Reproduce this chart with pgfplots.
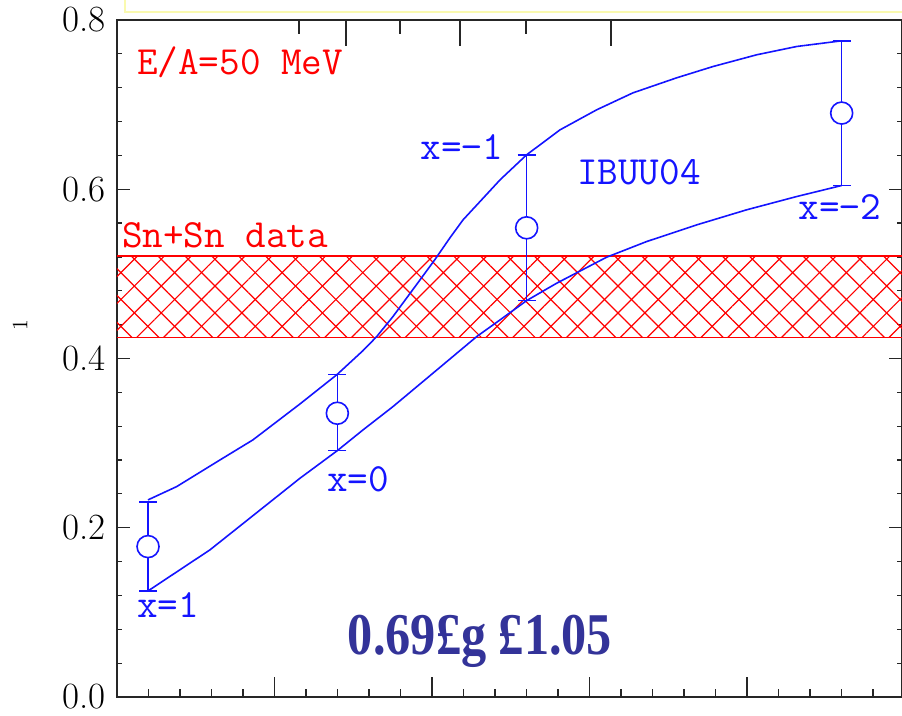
\documentclass[border=0pt]{standalone}
\usepackage{fontspec}
\usepackage{pgfplots}
\pgfplotsset{compat=1.18}
\usetikzlibrary{patterns.meta}
\newfontfamily\bigserif[FakeStretch=0.85]{Liberation Serif}
\definecolor{navy}{RGB}{51,51,153}
\definecolor{lblue}{RGB}{20,20,255}
\definecolor{boxyellow}{RGB}{250,250,175}
\newcommand{\lab}{\ttfamily\fontsize{20}{22}\selectfont}
\pgfplotsset{base/.style={scale only axis, width=392.5pt, height=338.5pt,
  xmin=0, xmax=4.984, ymin=0, ymax=0.8, clip=false,
  tick style={line width=0.6pt, black!85}}}
\begin{document}
\begin{tikzpicture}
\begin{axis}[base,
  xtick=\empty,
  ytick={0,0.2,0.4,0.6,0.8},
  yticklabels={0.0,0.2,0.4,0.6,0.8},
  minor ytick={0.04,0.08,0.12,0.16,0.24,0.28,0.32,0.36,0.44,0.48,0.52,0.56,0.64,0.68,0.72,0.76},
  ytick pos=both, tick align=inside,
  major tick length=6.5pt, minor tick length=2.5pt,
  yticklabel style={font=\fontsize{18.5}{20}\selectfont, xshift=-2.3pt},
  axis line style={line width=0.9pt, black!85}]
\coordinate (bl) at (rel axis cs:0,0);
\coordinate (tr) at (rel axis cs:1,1);
% Sn+Sn data band
\addplot[draw=none, pattern={Lines[angle=45,distance=9.5pt,line width=0.6pt]}, pattern color=red]
  coordinates {(0,0.4247)(4.984,0.4247)(4.984,0.5213)(0,0.5213)} -- cycle;
\addplot[draw=none, pattern={Lines[angle=-45,distance=9.5pt,line width=0.6pt]}, pattern color=red]
  coordinates {(0,0.4247)(4.984,0.4247)(4.984,0.5213)(0,0.5213)} -- cycle;
\addplot[red, line width=0.75pt] coordinates {(0,0.5213)(4.984,0.5213)};
\addplot[red, line width=0.75pt] coordinates {(0,0.4247)(4.984,0.4247)};
% IBUU04 curves
\addplot[lblue, line width=0.8pt] coordinates {(0.197,0.2329)(0.379,0.2486)(0.654,0.2801)(0.863,0.3038)(1.162,0.3463)(1.397,0.381)(1.562,0.4093)(1.649,0.4259)(1.752,0.4495)(1.924,0.4929)(2.019,0.517)(2.114,0.5426)(2.197,0.5638)(2.305,0.5855)(2.432,0.6111)(2.601,0.6407)(2.813,0.6702)(3.046,0.6939)(3.276,0.7139)(3.554,0.7317)(3.784,0.745)(4.062,0.7589)(4.316,0.7687)(4.601,0.7754)};
\addplot[lblue, line width=0.8pt] coordinates {(0.197,0.1253)(0.59,0.1738)(1.162,0.2585)(1.399,0.2911)(1.562,0.3156)(1.752,0.3431)(2.006,0.3826)(2.284,0.4259)(2.432,0.4456)(2.601,0.4684)(2.792,0.489)(3.109,0.5197)(3.363,0.5382)(3.681,0.5579)(3.998,0.5757)(4.316,0.5914)(4.601,0.6044)};
% points with error bars
\addplot[color=lblue, line width=0.8pt, only marks, mark=*, mark size=5.5pt,
  mark options={fill=white, draw=lblue},
  error bars/.cd, y dir=both, y explicit,
  error bar style={line width=0.8pt, color=lblue},
  error mark options={rotate=90, mark size=4.5pt, line width=0.8pt, color=lblue}]
  table[x=x, y=y, y error plus=ep, y error minus=em] {
x y ep em
0.197 0.1777 0.0528 0.0524
1.399 0.3353 0.0457 0.0442
2.601 0.5544 0.0863 0.0860
4.601 0.690 0.0854 0.0856
};
% labels
\node[red, anchor=base west, inner sep=0] at (axis cs:0.125,0.7352) {\lab E/A=50 MeV};
\node[red, anchor=base west, inner sep=0] at (axis cs:0.030,0.5307) {\lab Sn+Sn data};
\node[lblue, anchor=base west, inner sep=0] at (axis cs:0.125,0.0934) {\lab x=1};
\node[lblue, anchor=base west, inner sep=0] at (axis cs:1.331,0.2427) {\lab x=0};
\node[lblue, anchor=base west, inner sep=0] at (axis cs:1.924,0.6348) {\lab x=−1};
\node[lblue, anchor=base west, inner sep=0] at (axis cs:2.919,0.6052) {\lab IBUU04};
\node[lblue, anchor=base west, inner sep=0] at (axis cs:4.324,0.5638) {\lab x=−2};
\node[navy, anchor=base, inner sep=0] at (axis cs:2.305,0.0496) {\bigserif\bfseries\fontsize{29.6}{32}\selectfont 0.69£g £1.05};
\node[rotate=90, inner sep=0] at (axis cs:-0.616,0.4397) {\fontsize{11}{12}\selectfont 1};
\draw[boxyellow, line width=1pt] (axis cs:0.051,0.9) |- (axis cs:5.3,0.8095);
\end{axis}
% bottom ticks
\begin{axis}[base, axis line style={draw=none}, ytick=\empty,
  xtick={0,1,2,3,4}, xticklabels={},
  minor xtick={0.2,0.4,0.6,0.8,1.2,1.4,1.6,1.8,2.2,2.4,2.6,2.8,3.2,3.4,3.6,3.8,4.2,4.4,4.6,4.8},
  xtick pos=lower, tick align=inside, major tick length=10pt, minor tick length=4pt]
\end{axis}
% top ticks
\begin{axis}[base, axis line style={draw=none}, ytick=\empty,
  xtick={1.454,2.178,3.137}, xticklabels={},
  minor xtick={1.156,1.797,2.597},
  xtick pos=upper, tick align=inside, major tick length=13pt, minor tick length=7pt]
\end{axis}
\pgfresetboundingbox
\path[use as bounding box] ([shift={(-58.5pt,-9.5pt)}]bl) rectangle ([shift={(0pt,10pt)}]tr);
\end{tikzpicture}
\end{document}
